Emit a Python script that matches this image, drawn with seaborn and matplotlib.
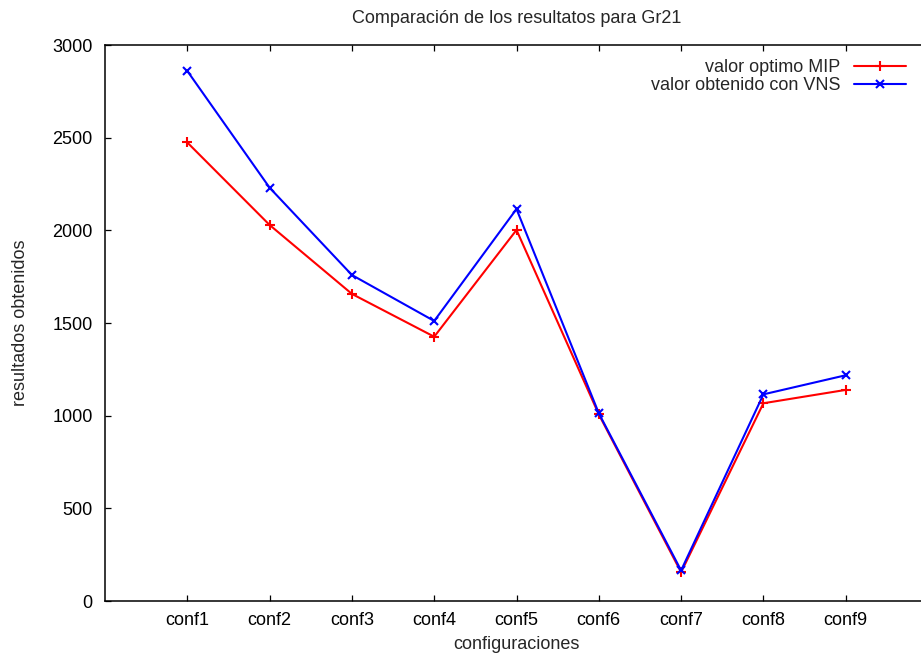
import matplotlib
matplotlib.use("Agg")
import matplotlib.pyplot as plt
import seaborn as sns
import pandas as pd

categories = ["conf1", "conf2", "conf3", "conf4", "conf5", "conf6", "conf7", "conf8", "conf9"]
mip_values = [2474, 2029, 1657, 1426, 2002, 1007, 155, 1067, 1139]
vns_values = [2860, 2230, 1759, 1511, 2115, 1013, 165, 1115, 1218]
y_ticks = [0, 500, 1000, 1500, 2000, 2500, 3000]
series_labels = ["valor optimo MIP", "valor obtenido con VNS"]

sns.set_style("ticks")
plt.rcParams["font.family"] = ["Liberation Sans", "DejaVu Sans"]
plt.rcParams["font.size"] = 13

df_mip = pd.DataFrame({"conf": categories, "valor": mip_values})
df_vns = pd.DataFrame({"conf": categories, "valor": vns_values})

fig = plt.figure(figsize=(9.21, 6.62), dpi=100)
ax = fig.add_axes([105 / 921, 61 / 662, 823 / 921, 556 / 662])

sns.lineplot(data=df_mip, x="conf", y="valor", ax=ax, color="#ff0000", marker="+",
             markersize=7, markeredgewidth=1.5, markeredgecolor="#ff0000",
             linewidth=1.5, label=series_labels[0], sort=False)
sns.lineplot(data=df_vns, x="conf", y="valor", ax=ax, color="#0000ff", marker="x",
             markersize=6, markeredgewidth=1.5, markeredgecolor="#0000ff",
             linewidth=1.5, label=series_labels[1], sort=False)

ax.set_xlim(-1, 9)
ax.set_ylim(0, 3000)
ax.set_yticks(y_ticks)
ax.set_xticks(range(len(categories)))
ax.set_xticklabels(categories)

for s in ax.spines.values():
    s.set_visible(True)
    s.set_linewidth(1.1)
    s.set_color("black")

ax.tick_params(axis="both", which="major", direction="in", length=4.5, width=0.9,
               top=True, right=True, labelsize=13, colors="black")
ax.tick_params(axis="x", pad=8)
ax.tick_params(axis="y", pad=9)

ax.set_xlabel("configuraciones", fontsize=13, labelpad=5)
ax.set_ylabel("resultados obtenidos", fontsize=13, labelpad=17)
ax.set_title("Comparación de los resultatos para Gr21", fontsize=13, pad=16)

leg = ax.legend(loc="upper right", bbox_to_anchor=(906 / 921, 1 - 59 / 662),
                bbox_transform=fig.transFigure, frameon=False, markerfirst=False,
                handlelength=2.9, handletextpad=0.75, labelspacing=0.05,
                borderaxespad=0, borderpad=0, fontsize=13)

fig.savefig("out.png", dpi=100)
